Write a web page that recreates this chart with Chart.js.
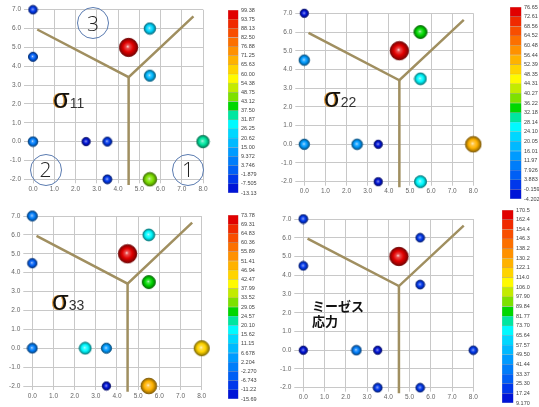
<!DOCTYPE html>
<html>
<head>
<meta charset="utf-8">
<script src="https://cdn.jsdelivr.net/npm/chart.js@4.4.1/dist/chart.umd.min.js"></script>
<style>
  html, body { margin: 0; padding: 0; background: #fff; }
  body { width: 539px; height: 407px; position: relative; overflow: hidden;
         font-family: "Liberation Sans", Arial, sans-serif; }
  canvas { position: absolute; }
  .sig { position: absolute; white-space: nowrap; line-height: 1; }
  .sig .g { font-size: 27px; color: #111; text-shadow: -1.2px 0 0 #e8a040; }
  .sig .s { font-size: 14px; color: #333; }
  .grain { position: absolute; width: 30px; height: 30px; border: 1.3px solid #5a7bb0;
           border-radius: 50%; display: flex; align-items: center; justify-content: center;
           font-family: "Open Sans", "DejaVu Sans", sans-serif; font-weight: 300;
           font-size: 21px; color: #222; line-height: 1; }
  .jp { position: absolute; font-family: "Noto Sans CJK JP", sans-serif; font-weight: bold;
        font-size: 13px; line-height: 15px; color: #111; white-space: nowrap; }
</style>
</head>
<body>
<canvas id="p1"></canvas><canvas id="p2"></canvas><canvas id="p3"></canvas><canvas id="p4"></canvas>
<canvas id="c1"></canvas><canvas id="c2"></canvas><canvas id="c3"></canvas><canvas id="c4"></canvas>

<div class="grain" style="left:77px;top:7px;">3</div>
<div class="grain" style="left:29.5px;top:153.5px;">2</div>
<div class="grain" style="left:172px;top:153.5px;">1</div>

<div class="sig" style="left:53px;top:86px;"><span class="g">σ</span><span class="s">11</span></div>
<div class="sig" style="left:324px;top:85px;"><span class="g">σ</span><span class="s">22</span></div>
<div class="sig" style="left:52px;top:288px;"><span class="g">σ</span><span class="s">33</span></div>
<div class="jp" style="left:312px;top:298px;">ミーゼス<br>応力</div>

<script>
// Measurement positions (same for every map)
const pointX = [0, 0, 0, 2.5, 3.5, 3.5, 4.5, 5.5, 5.5, 5.5, 8];
const pointY = [7, 4.5, 0, 0, 0, -2, 5, 6, 3.5, -2, 0];

// Stress at each position
const sigma11 = [-6, -1, 5, -10, -2, -3, 96, 24, 20, 46, 34];
const sigma22 = [-2, 15, 14, 16, -2, -3, 75, 34, 25, 27, 54];
const sigma33 = [2, -4, 1, 18, 3, -13, 72, 17, 27, 49, 45];
const mises   = [23, 22, 14, 35, 13, 24, 168, 21, 22, 21, 20];

// Colour-scale labels, bottom to top
const scale11 = ["-13.13","-7.505","-1.879","3.746","9.372","15.00","20.62","26.25","31.87","37.50","43.12",
                 "48.75","54.38","60.00","65.63","71.25","76.88","82.50","88.13","93.75","99.38"];
const scale22 = ["-4.202","-0.159","3.883","7.926","11.97","16.01","20.05","24.10","28.14","32.18","36.22",
                 "40.27","44.31","48.35","52.39","56.44","60.48","64.52","68.56","72.61","76.65"];
const scale33 = ["-15.69","-11.22","-6.743","-2.270","2.204","6.678","11.15","15.62","20.10","24.57","29.05",
                 "33.52","37.99","42.47","46.94","51.41","55.89","60.36","64.83","69.31","73.78"];
const scaleMises = ["9.170","17.24","25.30","33.37","41.44","49.50","57.57","65.64","73.70","81.77","89.84",
                    "97.90","106.0","114.0","122.1","130.2","138.2","146.3","154.4","162.4","170.5"];

// Grain boundary (triple junction)
const boundaryX = [0.2, 4.5, 7.55];
const boundaryY = [5.95, 3.42, 6.65];
const stemX = [4.5, 4.5];
const stemY = [3.42, -2.3];

// Axis ticks
const xTicks = [0, 1, 2, 3, 4, 5, 6, 7, 8];
const yTicks = [-2, -1, 0, 1, 2, 3, 4, 5, 6, 7];

// Band colours, bottom to top
const BANDS = [
  [0,20,215],[0,55,235],[0,95,245],[0,125,250],[0,155,255],[0,185,255],[0,215,255],[0,250,255],
  [0,230,160],[0,215,0],[125,225,0],[195,235,0],[255,250,0],[255,212,0],[255,178,0],[255,145,0],
  [252,112,0],[248,78,0],[240,42,0],[225,0,0]
];

const rgb = c => `rgb(${c.map(Math.round).join(',')})`;
const mix = (a, b, t) => a.map((v, i) => v + (b[i] - v) * t);

function bandIndex(v, lo, hi) {
  const i = Math.floor((v - lo) / (hi - lo) * BANDS.length);
  return Math.max(0, Math.min(BANDS.length - 1, i));
}

// Shaded ball used as point marker
function sphere(col, r) {
  const s = Math.ceil(r * 2 + 2);
  const cv = document.createElement('canvas');
  cv.width = cv.height = s;
  const g = cv.getContext('2d');
  const c = s / 2;
  const gr = g.createRadialGradient(c - r * 0.1, c - r * 0.1, 0, c, c, r);
  gr.addColorStop(0, rgb(mix(col, [255,255,255], 0.85)));
  gr.addColorStop(0.2, rgb(mix(col, [255,255,255], 0.3)));
  gr.addColorStop(0.55, rgb(col));
  gr.addColorStop(1, rgb(mix(col, [0,0,0], 0.45)));
  g.fillStyle = gr;
  g.beginPath(); g.arc(c, c, r, 0, Math.PI * 2); g.fill();
  g.lineWidth = 0.9;
  g.strokeStyle = rgb(mix(col, [0,0,0], 0.5));
  g.stroke();
  return cv;
}

const TICK_FONT = { family: '"Liberation Sans", Arial, sans-serif', size: 6.5 };
const GRID = '#c8c8c8';

function stressMap(id, canvasBox, area, values, scaleLabels) {
  const cv = document.getElementById(id);
  cv.width = canvasBox.w; cv.height = canvasBox.h;
  cv.style.left = canvasBox.x + 'px'; cv.style.top = canvasBox.y + 'px';
  const yW = 30, xH = 19;
  const lo = Number(scaleLabels[0]), hi = Number(scaleLabels[scaleLabels.length - 1]);
  const imgs = values.map(v => {
    const t = (v - lo) / (hi - lo);
    return sphere(BANDS[bandIndex(v, lo, hi)], 4.0 + 5.3 * t);
  });
  const pts = pointX.map((x, i) => ({ x, y: pointY[i] }));
  const lineCfg = { type: 'line', borderColor: '#a08f60', borderWidth: 2.5, pointRadius: 0,
                    showLine: true, fill: false, clip: false, tension: 0 };
  new Chart(cv, {
    type: 'scatter',
    data: {
      datasets: [
        { data: pts, pointStyle: ctx => imgs[ctx.dataIndex], pointRadius: 5, clip: false },
        Object.assign({ data: boundaryX.map((x, i) => ({ x, y: boundaryY[i] })) }, lineCfg),
        Object.assign({ data: stemX.map((x, i) => ({ x, y: stemY[i] })) }, lineCfg)
      ]
    },
    options: {
      responsive: false, animation: false, events: [],
      plugins: { legend: { display: false }, tooltip: { enabled: false } },
      layout: { padding: {
        left: area.L - canvasBox.x - yW,
        top: area.T - canvasBox.y,
        right: canvasBox.x + canvasBox.w - area.R,
        bottom: canvasBox.y + canvasBox.h - area.B - xH } },
      scales: {
        x: {
          type: 'linear', min: 0, max: 8,
          afterBuildTicks: s => { s.ticks = xTicks.map(v => ({ value: v })); },
          afterFit: s => { s.height = xH; },
          ticks: { callback: v => v.toFixed(1), font: TICK_FONT, color: '#666', padding: 2, maxRotation: 0 },
          grid: { color: GRID, tickLength: 4 },
          border: { color: GRID }
        },
        y: {
          type: 'linear', min: -2, max: 7,
          afterBuildTicks: s => { s.ticks = yTicks.map(v => ({ value: v })); },
          afterFit: s => { s.width = yW; },
          ticks: { callback: v => v.toFixed(1), font: TICK_FONT, color: '#666', padding: 3 },
          grid: { color: GRID, tickLength: 9 },
          border: { color: GRID }
        }
      }
    }
  });
}

function colourBar(id, box, scaleLabels) {
  const cv = document.getElementById(id);
  const labW = 30, padV = 6;
  cv.width = Math.ceil(box.w + labW); cv.height = Math.ceil(box.h + padV * 2);
  cv.style.left = box.x + 'px'; cv.style.top = (box.y - padV) + 'px';
  const bounds = scaleLabels.map(Number);
  new Chart(cv, {
    type: 'bar',
    data: {
      labels: [''],
      datasets: BANDS.map((c, i) => ({
        data: [[bounds[i], bounds[i + 1]]],
        backgroundColor: rgb(c), borderColor: 'rgba(40,40,40,0.25)', borderWidth: 0.5,
        borderSkipped: false, grouped: false, barPercentage: 1, categoryPercentage: 1
      }))
    },
    options: {
      responsive: false, animation: false, events: [],
      plugins: { legend: { display: false }, tooltip: { enabled: false } },
      layout: { padding: { left: 0, right: cv.width - box.w - labW, top: padV, bottom: cv.height - box.h - padV } },
      scales: {
        x: { display: false },
        y: {
          position: 'right', min: bounds[0], max: bounds[bounds.length - 1],
          afterBuildTicks: s => { s.ticks = bounds.map(v => ({ value: v })); },
          afterFit: s => { s.width = labW; },
          ticks: { autoSkip: false, callback: (v, i) => scaleLabels[i],
                   font: { family: '"Liberation Sans", Arial, sans-serif', size: 5.5 }, color: '#444', padding: 2.5 },
          grid: { display: false, drawTicks: false, tickLength: 0 },
          border: { display: false }
        }
      }
    }
  });
}

stressMap('p1', { x: 0, y: 0, w: 220, h: 203 }, { L: 33, T: 9.7, R: 203, B: 179.3 }, sigma11, scale11);
stressMap('p2', { x: 270, y: 0, w: 225, h: 203 }, { L: 304.3, T: 13.3, R: 473.3, B: 181.7 }, sigma22, scale22);
stressMap('p3', { x: 0, y: 203, w: 220, h: 204 }, { L: 32.3, T: 216, R: 201.7, B: 386 }, sigma33, scale33);
stressMap('p4', { x: 270, y: 203, w: 228, h: 204 }, { L: 303.3, T: 219, R: 473.3, B: 387.7 }, mises, scaleMises);

colourBar('c1', { x: 228, y: 10, w: 10.5, h: 183 }, scale11);
colourBar('c2', { x: 510, y: 7, w: 11.5, h: 192 }, scale22);
colourBar('c3', { x: 228, y: 215, w: 10.5, h: 184 }, scale33);
colourBar('c4', { x: 502, y: 210, w: 11.5, h: 193 }, scaleMises);
</script>
</body>
</html>
